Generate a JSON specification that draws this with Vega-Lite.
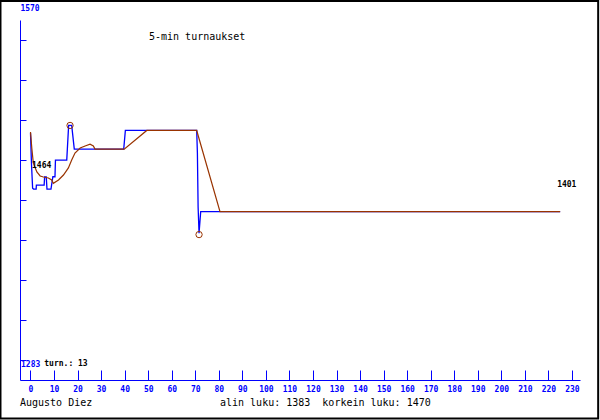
{
  "$schema": "https://vega.github.io/schema/vega-lite/v6.json",
  "width": 560,
  "height": 360,
  "autosize": "none",
  "padding": {"left": 20, "top": 20, "right": 20, "bottom": 40},
  "background": "white",
  "config": {
    "view": {"stroke": null},
    "font": "DejaVu Sans Mono",
    "text": {"font": "DejaVu Sans Mono"},
    "axisX": {
      "title": null, "grid": false,
      "domainColor": "#0000ff", "domainWidth": 1,
      "tickColor": "#0000ff", "tickSize": -10, "tickWidth": 1,
      "labelColor": "#0000ff", "labelFont": "DejaVu Sans Mono", "labelFontSize": 8,
      "labelFontWeight": "bold", "labelPadding": 19, "labelBaseline": "middle",
      "labelFlush": false, "labelOverlap": false
    }
  },
  "title": {
    "text": "5-min turnaukset",
    "anchor": "start",
    "frame": "group",
    "dx": 129,
    "offset": -47,
    "baseline": "middle",
    "font": "DejaVu Sans Mono",
    "fontSize": 10,
    "fontWeight": "normal",
    "color": "black"
  },
  "datasets": {
    "blue": [
      {"x": 0, "v": 1464}, {"x": 0.4, "v": 1440}, {"x": 0.9, "v": 1420},
      {"x": 1.3, "v": 1419.3}, {"x": 2.4, "v": 1419.3}, {"x": 2.5, "v": 1422.5},
      {"x": 5.8, "v": 1422.5}, {"x": 6.0, "v": 1429}, {"x": 6.7, "v": 1429},
      {"x": 7.0, "v": 1419.3}, {"x": 8.7, "v": 1419.3}, {"x": 9.5, "v": 1429.1},
      {"x": 10.4, "v": 1429.1}, {"x": 10.6, "v": 1442.4}, {"x": 15.4, "v": 1442.4},
      {"x": 16.2, "v": 1470}, {"x": 17.5, "v": 1470}, {"x": 18.6, "v": 1451.1},
      {"x": 39.6, "v": 1451.1}, {"x": 40.3, "v": 1466}, {"x": 70.6, "v": 1466},
      {"x": 70.9, "v": 1448}, {"x": 71.2, "v": 1405}, {"x": 71.6, "v": 1384},
      {"x": 72.3, "v": 1401.3}, {"x": 225, "v": 1401.3}
    ],
    "brown": [
      {"x": 0, "v": 1464.8}, {"x": 0.55, "v": 1452}, {"x": 1.2, "v": 1440},
      {"x": 2.7, "v": 1432.9}, {"x": 4.1, "v": 1429.7}, {"x": 5.5, "v": 1428.9},
      {"x": 7.6, "v": 1428.1}, {"x": 9.0, "v": 1426.5}, {"x": 9.7, "v": 1423.9},
      {"x": 11.9, "v": 1426.5}, {"x": 14.0, "v": 1430.5}, {"x": 16.1, "v": 1436.1},
      {"x": 17.5, "v": 1442.4}, {"x": 18.9, "v": 1448}, {"x": 21.1, "v": 1452},
      {"x": 23.2, "v": 1453.6}, {"x": 25.3, "v": 1455}, {"x": 26.7, "v": 1453.6},
      {"x": 27.4, "v": 1451.1}, {"x": 39.8, "v": 1451.1}, {"x": 49.4, "v": 1466},
      {"x": 70.6, "v": 1466}, {"x": 80.5, "v": 1401.3}, {"x": 225, "v": 1401.3}
    ],
    "extremes": [
      {"x": 16.8, "v": 1470, "kind": "korkein"},
      {"x": 71.6, "v": 1383, "kind": "alin"}
    ]
  },
  "layer": [
    {
      "data": {"name": "blue"},
      "mark": {"type": "line", "color": "#0000ff", "strokeWidth": 1.3, "clip": false},
      "encoding": {
        "x": {
          "field": "x", "type": "quantitative",
          "scale": {"domain": [-4.46, 233.43], "nice": false, "zero": false},
          "axis": {"values": [0, 10, 20, 30, 40, 50, 60, 70, 80, 90, 100, 110, 120, 130, 140, 150, 160, 170, 180, 190, 200, 210, 220, 230]}
        },
        "y": {
          "field": "v", "type": "quantitative",
          "scale": {"domain": [1267.07, 1554.06], "nice": false, "zero": false},
          "axis": {
            "values": [1538.11, 1506.22, 1474.34, 1442.45, 1410.56, 1378.67, 1346.79, 1314.9, 1283.01],
            "title": null, "grid": false,
            "domainColor": "#0000ff", "domainWidth": 1,
            "tickColor": "#0000ff", "tickSize": -6, "tickWidth": 1,
            "labelExpr": "datum.value < 1290 ? '1283' : ''",
            "labelColor": "#0000ff", "labelFont": "DejaVu Sans Mono", "labelFontSize": 8,
            "labelFontWeight": "bold", "labelAlign": "left", "labelPadding": 5.5,
            "labelBaseline": "middle", "labelOffset": 4, "labelOverlap": false
          }
        }
      }
    },
    {
      "data": {"name": "brown"},
      "mark": {"type": "line", "color": "#993300", "strokeWidth": 1.2, "clip": false},
      "encoding": {
        "x": {"field": "x", "type": "quantitative", "axis": {"values": [0, 10, 20, 30, 40, 50, 60, 70, 80, 90, 100, 110, 120, 130, 140, 150, 160, 170, 180, 190, 200, 210, 220, 230]}},
        "y": {"field": "v", "type": "quantitative"}
      }
    },
    {
      "data": {"name": "extremes"},
      "mark": {"type": "point", "shape": "circle", "filled": false, "color": "#993300", "size": 40, "strokeWidth": 1, "opacity": 1},
      "encoding": {
        "x": {"field": "x", "type": "quantitative", "axis": {"values": [0, 10, 20, 30, 40, 50, 60, 70, 80, 90, 100, 110, 120, 130, 140, 150, 160, 170, 180, 190, 200, 210, 220, 230]}},
        "y": {"field": "v", "type": "quantitative"}
      }
    },
    {
      "data": {"name": "brown"},
      "transform": [{"filter": "datum.x == 0"}],
      "mark": {"type": "text", "align": "left", "baseline": "middle", "dx": 1.5, "dy": 34, "fontSize": 8, "fontWeight": "bold", "color": "black", "font": "DejaVu Sans Mono"},
      "encoding": {
        "x": {"field": "x", "type": "quantitative", "axis": {"values": [0, 10, 20, 30, 40, 50, 60, 70, 80, 90, 100, 110, 120, 130, 140, 150, 160, 170, 180, 190, 200, 210, 220, 230]}},
        "y": {"field": "v", "type": "quantitative"},
        "text": {"value": "1464"}
      }
    },
    {
      "data": {"name": "brown"},
      "transform": [{"filter": "datum.x == 225"}],
      "mark": {"type": "text", "align": "left", "baseline": "middle", "dx": -3, "dy": -27, "fontSize": 8, "fontWeight": "bold", "color": "black", "font": "DejaVu Sans Mono"},
      "encoding": {
        "x": {"field": "x", "type": "quantitative", "axis": {"values": [0, 10, 20, 30, 40, 50, 60, 70, 80, 90, 100, 110, 120, 130, 140, 150, 160, 170, 180, 190, 200, 210, 220, 230]}},
        "y": {"field": "v", "type": "quantitative"},
        "text": {"value": "1401"}
      }
    },
    {
      "data": {"values": [{"frame": 1}]},
      "mark": {"type": "rect", "fill": "transparent", "stroke": "black", "strokeWidth": 2, "clip": false},
      "encoding": {
        "x": {"datum": -12.75, "type": "quantitative", "axis": {"values": [0, 10, 20, 30, 40, 50, 60, 70, 80, 90, 100, 110, 120, 130, 140, 150, 160, 170, 180, 190, 200, 210, 220, 230]}},
        "x2": {"datum": 241.15},
        "y": {"datum": 1569.2, "type": "quantitative"},
        "y2": {"datum": 1236.4}
      }
    },
    {
      "data": {"values": [{"label": "1570"}]},
      "mark": {"type": "text", "align": "left", "baseline": "middle", "fontSize": 8, "fontWeight": "bold", "color": "#0000ff", "font": "DejaVu Sans Mono", "clip": false},
      "encoding": {
        "x": {"datum": -4.3, "type": "quantitative", "axis": {"values": [0, 10, 20, 30, 40, 50, 60, 70, 80, 90, 100, 110, 120, 130, 140, 150, 160, 170, 180, 190, 200, 210, 220, 230]}},
        "y": {"datum": 1562.8, "type": "quantitative"},
        "text": {"field": "label"}
      }
    },
    {
      "data": {"values": [{"label": "turn.: 13"}]},
      "mark": {"type": "text", "align": "left", "baseline": "middle", "fontSize": 8, "fontWeight": "bold", "color": "black", "font": "DejaVu Sans Mono"},
      "encoding": {
        "x": {"datum": 5.86, "type": "quantitative", "axis": {"values": [0, 10, 20, 30, 40, 50, 60, 70, 80, 90, 100, 110, 120, 130, 140, 150, 160, 170, 180, 190, 200, 210, 220, 230]}},
        "y": {"datum": 1279.8, "type": "quantitative"},
        "text": {"field": "label"}
      }
    },
    {
      "data": {"values": [{"label": "Augusto Diez"}]},
      "mark": {"type": "text", "align": "left", "baseline": "middle", "fontSize": 10, "color": "black", "font": "DejaVu Sans Mono", "clip": false},
      "encoding": {
        "x": {"datum": -4.46, "type": "quantitative", "axis": {"values": [0, 10, 20, 30, 40, 50, 60, 70, 80, 90, 100, 110, 120, 130, 140, 150, 160, 170, 180, 190, 200, 210, 220, 230]}},
        "y": {"datum": 1249.1, "type": "quantitative"},
        "text": {"field": "label"}
      }
    },
    {
      "data": {"values": [{"label": "alin luku: 1383\u00a0 korkein luku: 1470"}]},
      "mark": {"type": "text", "align": "left", "baseline": "middle", "fontSize": 10, "color": "black", "font": "DejaVu Sans Mono", "clip": false},
      "encoding": {
        "x": {"datum": 80.5, "type": "quantitative", "axis": {"values": [0, 10, 20, 30, 40, 50, 60, 70, 80, 90, 100, 110, 120, 130, 140, 150, 160, 170, 180, 190, 200, 210, 220, 230]}},
        "y": {"datum": 1249.1, "type": "quantitative"},
        "text": {"field": "label"}
      }
    }
  ]
}
